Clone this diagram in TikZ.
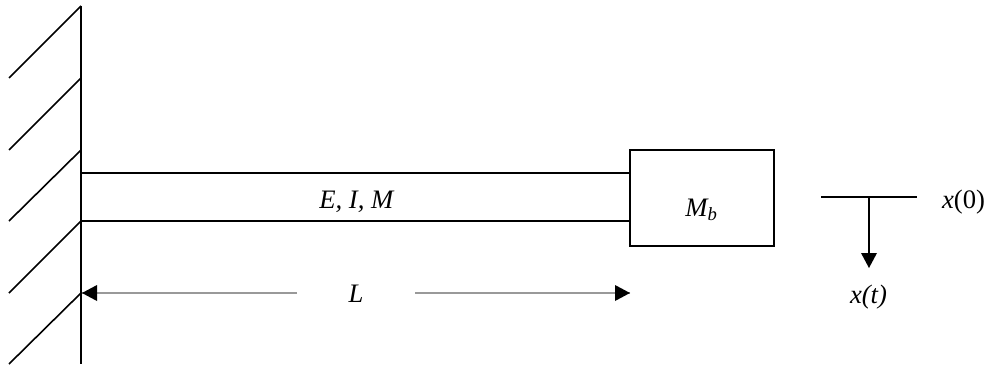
\documentclass[tikz,border=0pt]{standalone}
\usepackage{fontspec}
\setmainfont{Liberation Serif}
\tikzset{
  lbl/.style={inner sep=0pt,anchor=base,font=\fontsize{20pt}{22pt}\selectfont},
  thick line/.style={draw=black,line width=1.2pt},
  dimline/.style={draw=black!40,line width=1pt}
}
\begin{document}
\begin{tikzpicture}[x=0.75pt,y=-0.75pt]
\useasboundingbox (0,0) rectangle (988,367);
\coordinate (w0) at (81,6); \coordinate (w1) at (81,78); \coordinate (w2) at (81,150);
\coordinate (w3) at (81,221); \coordinate (w4) at (81,293); \coordinate (w5) at (81,364);
\coordinate (h1) at (9,78); \coordinate (h2) at (9,150); \coordinate (h3) at (9,221);
\coordinate (h4) at (9,293); \coordinate (h5) at (9,364);
\draw[thick line] (w0) -- (w5);
\draw[thick line] (w0) -- (h1);
\draw[thick line] (w1) -- (h2);
\draw[thick line] (w2) -- (h3);
\draw[thick line] (w3) -- (h4);
\draw[thick line] (w4) -- (h5);
\node[draw=black,line width=1.2pt,minimum width=108pt,minimum height=72pt,inner sep=0pt,outer sep=0pt,anchor=center] (mass) at (702,198) {};
\coordinate (b1) at (81,173.1); \coordinate (b1e) at (630,173.1);
\coordinate (b2) at (81,221); \coordinate (b2e) at (630,221);
\draw[thick line] (b1) -- (b1e);
\draw[thick line] (b2) -- (b2e);
\node[lbl] (eim) at (357,209) {\textit{E, I, M}};
\node[lbl] (mb) at (701.5,216) {\textit{M\textsubscript{b}}};
\node[lbl] (ll) at (356,302) {\textit{L}};
\coordinate (la) at (297,293); \coordinate (lae) at (82,293);
\coordinate (lb) at (415,293); \coordinate (lbe) at (630,293);
\draw[dimline] (la) -- (lae);
\draw[dimline] (lb) -- (lbe);
\fill (lae) -- +(15,-8) -- +(15,8) -- cycle;
\fill (lbe) -- +(-15,-8) -- +(-15,8) -- cycle;
\coordinate (t1) at (821,197); \coordinate (t2) at (917,197); \coordinate (t3) at (869,197); \coordinate (t4) at (869,268);
\draw[thick line] (t1) -- (t2);
\draw[thick line] (t3) -- (869,255);
\fill (t4) -- (861,253) -- (877,253) -- cycle;
\node[lbl] (x0) at (963.5,208) {\textit{x}(0)};
\node[lbl] (xt) at (868.5,303) {\textit{x(t)}};
\end{tikzpicture}
\end{document}
